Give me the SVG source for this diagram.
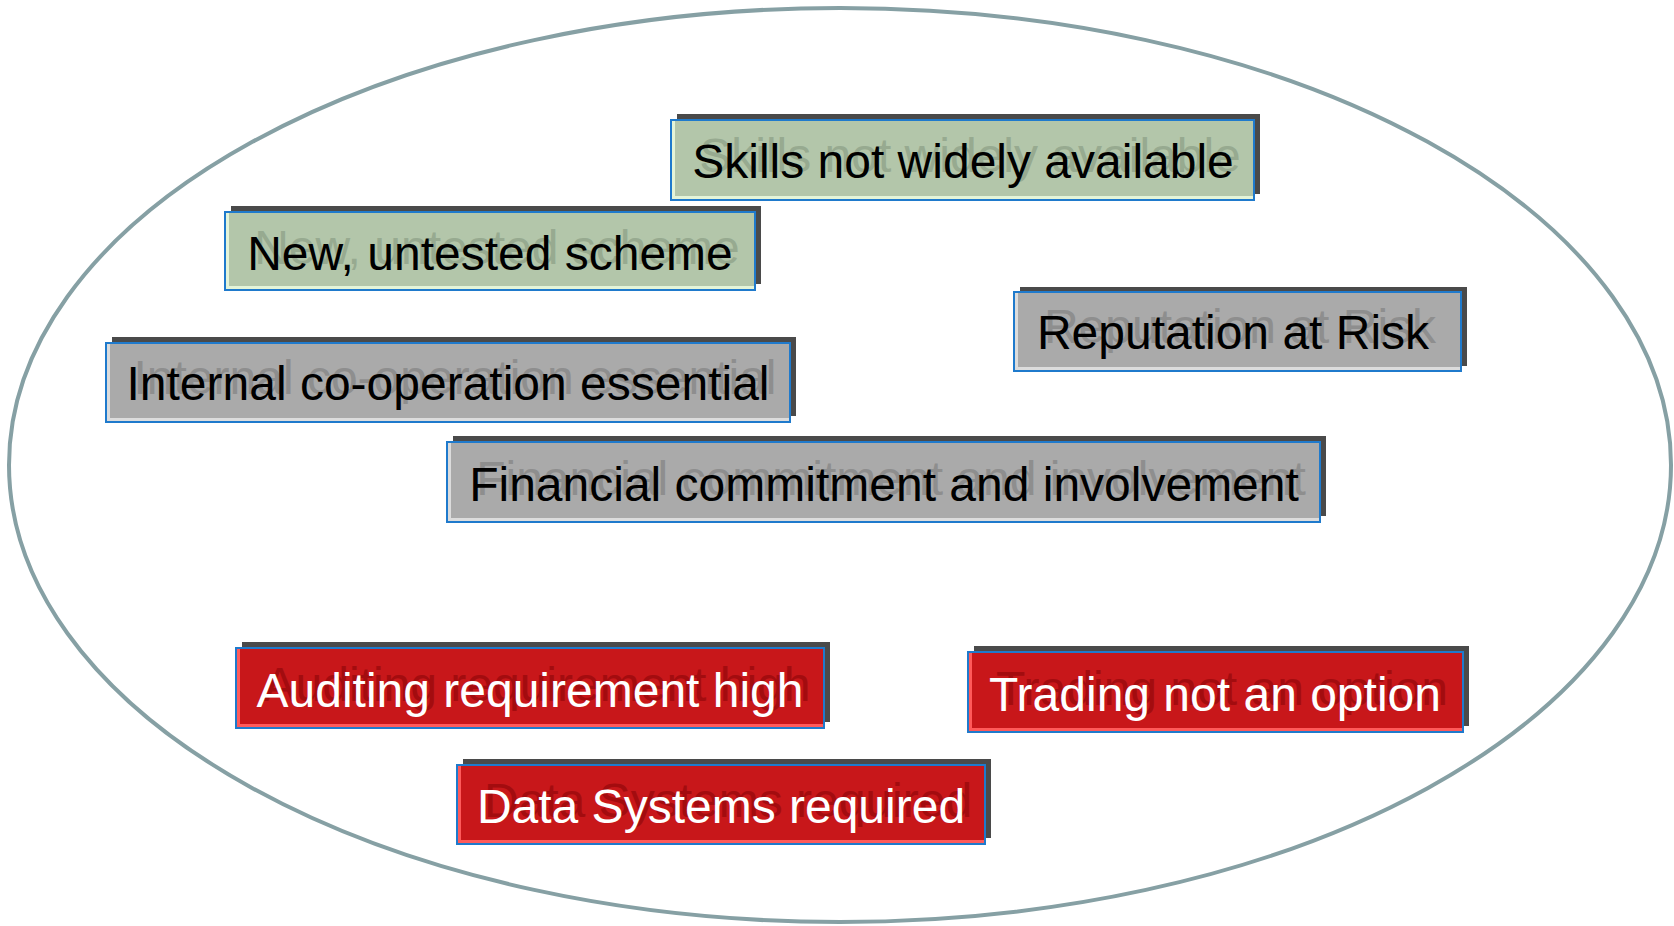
<svg xmlns="http://www.w3.org/2000/svg" width="1674" height="926" viewBox="0 0 1674 926">
<style>
.shadow{fill:#4a4a4a}
.border{fill:none;stroke:#1f7acc;stroke-width:2}
.t{font-family:"Liberation Sans",Arial,sans-serif;font-size:48px;text-anchor:middle}
.green .hl{fill:#e4f4d8}.green .fill{fill:#b3c6aa}.green .ghost{fill:#97aa90}.green .main{fill:#000}
.grey .hl{fill:#dcdcdc}.grey .fill{fill:#aaaaaa}.grey .ghost{fill:#8e8e8e}.grey .main{fill:#000}
.red .hl{fill:#ff5a5a}.red .fill{fill:#c8171a}.red .ghost{fill:#a30c0f}.red .main{fill:#fff}
</style>
<rect width="1674" height="926" fill="#fff"/>
<ellipse id="boundary" cx="840" cy="465" rx="831" ry="457" fill="none" stroke="#86a0a4" stroke-width="4"/>
<g id="connectors"/>

<g id="skills" class="green">
<rect class="shadow" x="677" y="114" width="583" height="80"/>
<rect class="hl" x="671" y="120" width="583" height="80"/>
<rect class="fill" x="675" y="120" width="579" height="76"/>
<rect class="border" x="671" y="120" width="583" height="80"/>
<text class="t ghost" x="970" y="172">Skills not widely available</text>
<text class="t main" x="963" y="178">Skills not widely available</text>
</g>

<g id="new-scheme" class="green">
<rect class="shadow" x="231" y="206" width="530" height="78"/>
<rect class="hl" x="225" y="212" width="530" height="78"/>
<rect class="fill" x="229" y="212" width="526" height="74"/>
<rect class="border" x="225" y="212" width="530" height="78"/>
<text class="t ghost" x="497" y="264">New, untested scheme</text>
<text class="t main" x="490" y="270">New, untested scheme</text>
</g>

<g id="internal" class="grey">
<rect class="shadow" x="112" y="337" width="684" height="79"/>
<rect class="hl" x="106" y="343" width="684" height="79"/>
<rect class="fill" x="110" y="343" width="680" height="75"/>
<rect class="border" x="106" y="343" width="684" height="79"/>
<text class="t ghost" x="455" y="394">Internal co-operation essential</text>
<text class="t main" x="448" y="400">Internal co-operation essential</text>
</g>

<g id="reputation" class="grey">
<rect class="shadow" x="1020" y="287" width="447" height="79"/>
<rect class="hl" x="1014" y="292" width="447" height="79"/>
<rect class="fill" x="1018" y="292" width="443" height="75"/>
<rect class="border" x="1014" y="292" width="447" height="79"/>
<text class="t ghost" x="1240" y="343">Reputation at Risk</text>
<text class="t main" x="1233" y="349">Reputation at Risk</text>
</g>

<g id="financial" class="grey">
<rect class="shadow" x="453" y="436" width="873" height="80"/>
<rect class="hl" x="447" y="442" width="873" height="80"/>
<rect class="fill" x="451" y="442" width="869" height="76"/>
<rect class="border" x="447" y="442" width="873" height="80"/>
<text class="t ghost" x="891" y="495">Financial commitment and involvement</text>
<text class="t main" x="884" y="501">Financial commitment and involvement</text>
</g>

<g id="auditing" class="red">
<rect class="shadow" x="242" y="642" width="588" height="80"/>
<rect class="hl" x="236" y="648" width="588" height="80"/>
<rect class="fill" x="240" y="648" width="584" height="76"/>
<rect class="border" x="236" y="648" width="588" height="80"/>
<text class="t ghost" x="537" y="701">Auditing requirement high</text>
<text class="t main" x="530" y="707">Auditing requirement high</text>
</g>

<g id="trading" class="red">
<rect class="shadow" x="974" y="646" width="495" height="80"/>
<rect class="hl" x="968" y="652" width="495" height="80"/>
<rect class="fill" x="972" y="652" width="491" height="76"/>
<rect class="border" x="968" y="652" width="495" height="80"/>
<text class="t ghost" x="1222" y="705">Trading not an option</text>
<text class="t main" x="1215" y="711">Trading not an option</text>
</g>

<g id="data-systems" class="red">
<rect class="shadow" x="463" y="759" width="528" height="79"/>
<rect class="hl" x="457" y="765" width="528" height="79"/>
<rect class="fill" x="461" y="765" width="524" height="75"/>
<rect class="border" x="457" y="765" width="528" height="79"/>
<text class="t ghost" x="728" y="817">Data Systems required</text>
<text class="t main" x="721" y="823">Data Systems required</text>
</g>
</svg>
